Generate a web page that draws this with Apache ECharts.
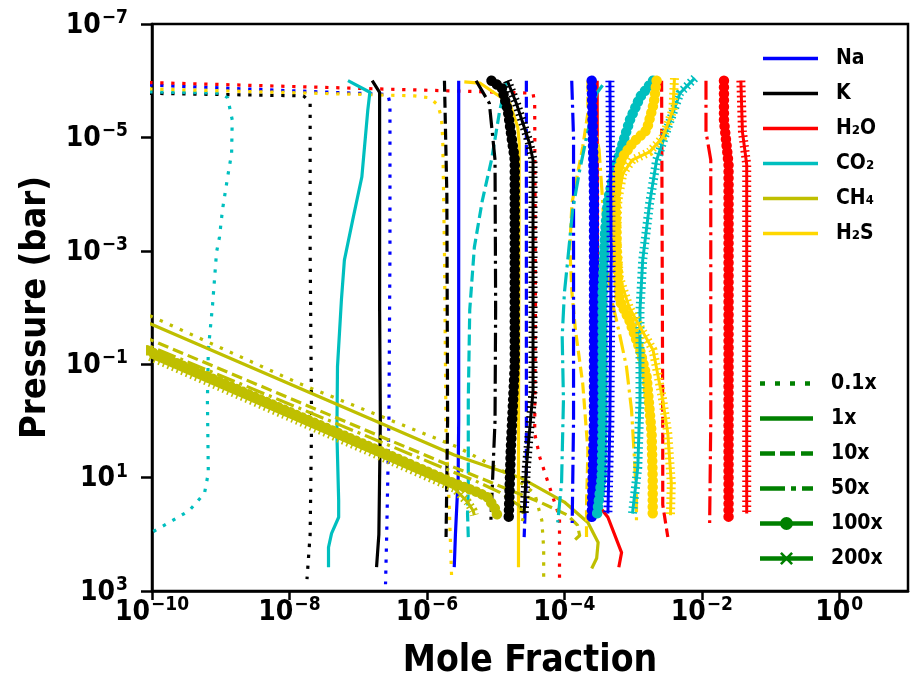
<!DOCTYPE html>
<html>
<head>
<meta charset="utf-8">
<script src="https://cdn.jsdelivr.net/npm/echarts@6/dist/echarts.min.js"></script>
<style>
html,body{margin:0;padding:0;background:#fff;}
#chart{width:923px;height:700px;}
</style>
</head>
<body>
<div id="chart"></div>
<script>
// tick positions and legend names
var xTicks = [1e-10, 1e-8, 1e-6, 1e-4, 1e-2, 1e0];
var yTicks = [1e-7, 1e-5, 1e-3, 1e-1, 1e1, 1e3];
var species = ['Na', 'K', 'H₂O', 'CO₂', 'CH₄', 'H₂S'];
var metallicity = ['0.1x', '1x', '10x', '50x', '100x', '200x'];

// [mole fraction, pressure (bar)]
var na01 = [[1e-11,1.1e-6],[1e-10,1.2e-6],[1e-8,1.5e-6],[2.7e-7,1.75e-6],[2.9e-7,2.5e-6],[2.9e-7,1e-3],[2.8e-7,1],[2.6e-7,100],[2.5e-7,760]];
var na1 = [[2.9e-6,1e-6],[2.9e-6,1],[2.85e-6,10],[2.6e-6,100],[2.5e-6,380]];
var na10 = [[2.8e-5,1e-6],[2.8e-5,10],[2.6e-5,112]];
var na50 = [[1.28e-4,1e-6],[1.36e-4,1e-5],[1.36e-4,1],[1.3e-4,63]];
var na100 = [[2.5e-4,1e-6],[2.7e-4,1e-4],[2.7e-4,1],[2.5e-4,52]];
var na200 = [[4.6e-4,1e-6],[4.8e-4,1e-3],[4.6e-4,1],[4.3e-4,43]];

var k01 = [[1e-11,1.6e-6],[1.6e-8,1.85e-6],[2.0e-8,2.4e-6],[2.0e-8,1e-3],[2.1e-8,1],[2.0e-8,100],[1.8e-8,620]];
var k1 = [[1.6e-7,1e-6],[2.05e-7,1.6e-6],[2.05e-7,1e-2],[2.1e-7,1],[2.0e-7,100],[1.85e-7,380]];
var k10 = [[1.8e-6,1e-6],[1.95e-6,1e-4],[2.0e-6,1],[1.9e-6,112]];
var k50 = [[5.2e-6,1e-6],[8.1e-6,2.5e-6],[9.8e-6,2.5e-5],[1e-5,1e-2],[9.8e-6,1],[8.5e-6,63]];
var k100 = [[8.7e-6,1e-6],[1.23e-5,1.35e-6],[1.5e-5,3.3e-6],[1.9e-5,2.5e-5],[1.9e-5,0.1],[1.66e-5,3.3],[1.55e-5,52]];
var k200 = [[1.48e-5,1e-6],[2.0e-5,2.5e-6],[3.1e-5,1.26e-5],[3.5e-5,2.5e-5],[3.5e-5,0.3],[2.8e-5,6.6],[2.6e-5,43]];

var h2o01 = [[1e-11,1.0e-6],[3.5e-5,1.66e-6],[3.7e-5,2.5e-6],[3.8e-5,1e-2],[3.7e-5,1.66],[4.4e-5,4.4],[6.8e-5,22],[8.5e-5,50],[8.5e-5,730]];
var h2o1 = [[3.0e-4,1e-6],[3.05e-4,1],[3.1e-4,30],[4.3e-4,50],[6.8e-4,210],[6.2e-4,380]];
var h2o10 = [[2.6e-3,1e-6],[2.7e-3,1],[2.7e-3,30],[3.2e-3,112]];
var h2o50 = [[1.15e-2,1e-6],[1.15e-2,8e-6],[1.35e-2,2.5e-5],[1.35e-2,1],[1.3e-2,63]];
var h2o100 = [[2.1e-2,1e-6],[2.1e-2,5e-6],[2.45e-2,3e-5],[2.45e-2,52]];
var h2o200 = [[3.7e-2,1e-6],[3.9e-2,8e-6],[4.5e-2,3e-5],[4.5e-2,43]];

var co201 = [[1e-11,1.5e-6],[1.0e-9,1.66e-6],[1.26e-9,2.0e-6],[1.47e-9,4.9e-6],[1.44e-9,1.9e-5],[1.26e-9,5.0e-5],[1.06e-9,1.9e-4],[9.6e-10,5.7e-4],[8.7e-10,1.05e-3],[7.6e-10,9.1e-3],[6.6e-10,5.6e-2],[6.4e-10,0.43],[6.6e-10,8.3],[5.8e-10,19],[3.5e-10,38],[2.0e-10,57],[1.0e-10,92],[5e-11,130]];
var co21 = [[7.1e-8,1e-6],[1.48e-7,1.6e-6],[1.38e-7,3.3e-6],[1.13e-7,5.0e-5],[8.3e-8,2.9e-4],[6.3e-8,1.46e-3],[5.7e-8,7.4e-3],[5.0e-8,0.11],[4.9e-8,1.66],[5.2e-8,25],[5.2e-8,50],[4.1e-8,96],[3.7e-8,170],[3.7e-8,380]];
var co210 = [[1.45e-5,1.05e-6],[1.15e-5,3.3e-6],[8.7e-6,2.5e-5],[6.4e-6,1.3e-4],[4.9e-6,8.7e-4],[4.2e-6,1.1e-2],[4.0e-6,0.43],[4.0e-6,15],[3.9e-6,43],[4.0e-6,112]];
var co250 = [[3.6e-4,1.2e-6],[2.95e-4,1.66e-6],[2.1e-4,1e-5],[1.67e-4,3.8e-5],[1.32e-4,1.9e-4],[1.12e-4,1.46e-3],[1.0e-4,5.6e-3],[9.3e-5,3.3e-2],[9.7e-5,0.43],[9.1e-5,12.6],[8.0e-5,62]];
var co2100 = [[1.95e-3,1e-6],[1.26e-3,1.95e-6],[9e-4,4.9e-6],[6.8e-4,1.48e-5],[5.4e-4,3.8e-5],[4.3e-4,1.3e-4],[3.9e-4,4.9e-4],[3.6e-4,5.6e-3],[3.6e-4,1],[3.5e-4,10],[2.95e-4,50]];
var co2200 = [[7.9e-3,9e-7],[4.8e-3,1.66e-6],[3.1e-3,7.4e-6],[2.2e-3,2.5e-5],[1.74e-3,1.45e-4],[1.38e-3,1.46e-3],[1.26e-3,1.1e-2],[1.26e-3,0.43],[1.17e-3,6.6],[9.8e-4,43]];

var ch401 = [[1.7e-11,5.8e-3],[1.2e-10,1.6e-2],[1.4e-8,0.22],[2.8e-6,2.9],[1.7e-5,9.2],[3.7e-5,19],[4.7e-5,57],[5.0e-5,177],[5.0e-5,650]];
var ch41 = [[1.7e-11,8.4e-3],[1.0e-10,2.0e-2],[2.5e-6,4.0],[2.4e-5,10.3],[1.0e-4,27],[2.2e-4,62],[3.1e-4,139],[2.95e-4,265],[2.5e-4,400]];
var ch410 = [[1.7e-11,1.55e-2],[1.0e-10,3.8e-2],[2.5e-6,6.6],[1.07e-5,13.6],[4.7e-5,28],[1.12e-4,46],[1.55e-4,69],[1.67e-4,105],[1.4e-4,128]];
var ch450 = [[1.7e-11,2.0e-2],[1.0e-10,5.0e-2],[2.5e-6,8.1],[4.9e-6,11.2],[1.15e-5,18.2],[2.2e-5,31],[2.6e-5,46],[2.4e-5,62]];
var ch4100 = [[1.7e-11,2.5e-2],[1.0e-10,6.2e-2],[2.5e-6,12.6],[5.5e-6,18.2],[7.6e-6,22],[1.02e-5,38],[1.07e-5,52]];
var ch4200 = [[1.7e-11,3.1e-2],[1.0e-10,7.6e-2],[2.5e-6,15.4],[3.9e-6,27],[4.7e-6,38],[4.9e-6,46]];

var h2s01 = [[1e-11,1.3e-6],[6.6e-7,1.85e-6],[1.1e-6,2.0e-6],[1.45e-6,2.7e-6],[1.63e-6,4.6e-6],[1.7e-6,1.1e-5],[1.8e-6,1e-3],[1.9e-6,1.66],[2.1e-6,25],[2.3e-6,700]];
var h2s1 = [[3.5e-6,1.05e-6],[5.9e-6,1.1e-6],[1.6e-5,2.5e-6],[2.1e-5,6.6e-6],[2.2e-5,1.26e-5],[2.15e-5,1],[2.15e-5,380]];
var h2s10 = [[2.2e-4,1.0e-6],[2.2e-4,3.7e-6],[1.85e-4,1.48e-5],[1.29e-4,1.45e-4],[1.2e-4,8.7e-4],[1.29e-4,5.6e-3],[1.45e-4,2.5e-2],[1.85e-4,0.22],[2.2e-4,3.3],[2.1e-4,33],[2.1e-4,112]];
var h2s50 = [[2.3e-4,1e-6],[2.5e-4,3.3e-6],[3.2e-4,1.66e-5],[3.6e-4,1.3e-4],[4.0e-4,1.46e-3],[4.9e-4,7.4e-3],[6.3e-4,2.8e-2],[8.0e-4,0.11],[9.5e-4,0.65],[1.05e-3,4.9],[1.12e-3,25],[1.12e-3,63]];
var h2s100 = [[2.2e-3,1e-6],[2.0e-3,2.5e-6],[1.58e-3,7.4e-6],[9.8e-4,1.26e-5],[7.1e-4,2.2e-5],[6.0e-4,3.8e-5],[5.6e-4,1.3e-4],[5.8e-4,1.0e-3],[6.3e-4,7.4e-3],[8.8e-4,1.66e-2],[1.26e-3,5.6e-2],[1.58e-3,0.17],[1.86e-3,1.66],[1.93e-3,11],[1.93e-3,50]];
var h2s200 = [[4.0e-3,9e-7],[3.8e-3,3.3e-6],[2.7e-3,1e-5],[1.74e-3,1.8e-5],[9.8e-4,2.5e-5],[7.1e-4,4.3e-5],[6.0e-4,1.3e-4],[5.8e-4,6.4e-4],[6.3e-4,2.9e-3],[8.8e-4,1e-2],[1.26e-3,2.2e-2],[1.95e-3,5.6e-2],[2.7e-3,0.43],[3.2e-3,1.66],[3.6e-3,12.6],[3.5e-3,46]];

// rows = metallicity, columns = species
var table = [
	[na01, k01, h2o01, co201, ch401, h2s01],
	[na1, k1, h2o1, co21, ch41, h2s1],
	[na10, k10, h2o10, co210, ch410, h2s10],
	[na50, k50, h2o50, co250, ch450, h2s50],
	[na100, k100, h2o100, co2100, ch4100, h2s100],
	[na200, k200, h2o200, co2200, ch4200, h2s200]
];

var colors = ['#0000ff', '#000000', '#ff0000', '#00bfbf', '#bfbf00', '#ffd700'];
var green = '#008000';
var FONT = '"DejaVu Sans Condensed", "DejaVu Sans", sans-serif';

// line look per metallicity in the plot
var plotStyles = [
	{width: 3.2, type: [3.3, 7.7]},
	{width: 3.2, type: 'solid'},
	{width: 3.2, type: [11, 5]},
	{width: 3.2, type: [19, 5, 3, 5]},
	{width: 10.5, type: [0.01, 6.5], cap: 'round'},	//chain of dots
	{width: 3, type: 'solid'}
];

// legend keys drawn as filled shapes in a 55x16 / 53x16 box (the first two moves fix the box)
var speciesKey = 'path://M0,0M55,16M0,6.2h55v3.6h-55Z';
var styleKeys = [
	'path://M0,0M53,16M0,5.8h5v4.4h-5ZM15,5.8h5v4.4h-5ZM30,5.8h5v4.4h-5ZM45,5.8h5v4.4h-5Z',
	'path://M0,0M53,16M0,5.8h53v4.4h-53Z',
	'path://M0,0M53,16M0,5.8h15v4.4h-15ZM20,5.8h15v4.4h-15ZM41,5.8h12v4.4h-12Z',
	'path://M0,0M53,16M0,5.8h25v4.4h-25ZM31,5.8h5v4.4h-5ZM42,5.8h11v4.4h-11Z',
	'path://M0,0M53,16M0,5.8h53v4.4h-53ZM33,8a6.5,6.5 0 1,1 -13,0a6.5,6.5 0 1,1 13,0Z',
	'path://M0,0M53,16M0,5.8h53v4.4h-53ZM20,3.3L21.8,1.5L26.5,6.2L31.2,1.5L33,3.3L28.3,8L33,12.7L31.2,14.5L26.5,9.8L21.8,14.5L20,12.7L24.7,8Z'
];

function powLabel(v){
	var e = Math.round(Math.log10(v));
	return '{b|10}{s|' + (e < 0 ? '\u2212' + (-e) : e) + '}';
}

var richLabel = {
	b: {fontSize: 28, fontWeight: 'bold', fontFamily: FONT, color: '#000', verticalAlign: 'bottom', lineHeight: 31},
	s: {fontSize: 19, fontWeight: 'bold', fontFamily: FONT, color: '#000', verticalAlign: 'bottom', lineHeight: 31, padding: [0, 0, 12, 1]}
};

var series = [];
// legend-only series
species.forEach(function(s, j){
	series.push({type: 'line', name: s, data: [], symbol: 'none',
		lineStyle: {color: colors[j]}, itemStyle: {color: colors[j]}});
});
metallicity.forEach(function(m, i){
	series.push({type: 'line', name: m, data: [], symbol: 'none',
		lineStyle: {color: green}, itemStyle: {color: green}});
});
// the profiles
metallicity.forEach(function(m, i){
	var st = plotStyles[i];
	species.forEach(function(s, j){
		series.push({
			type: 'line', name: s + ' ' + m, data: table[i][j], symbol: 'none', silent: true,
			lineStyle: {color: colors[j], width: st.width, type: st.type, cap: st.cap || 'butt', join: 'round'}
		});
		if (i == 5){	//x markers: cross ticks over the line
			series.push({
				type: 'line', name: s + ' ' + m + ' marks', data: table[i][j], symbol: 'none', silent: true,
				lineStyle: {color: colors[j], width: 9, type: [1.6, 3.4], cap: 'butt', join: 'round'}
			});
		}
	});
});

var legendText = {fontSize: 21, fontWeight: 'bold', fontFamily: FONT, color: '#000', padding: [0, 0, 0, 13]};

var option = {
	animation: false,
	backgroundColor: '#fff',
	grid: {left: 152, top: 24, width: 756, height: 567, show: true, borderColor: '#000', borderWidth: 2.5, containLabel: false},
	legend: [{
		orient: 'vertical', left: 758, top: 43, itemWidth: 55, itemHeight: 16, itemGap: 14,
		selectedMode: false, symbolKeepAspect: false, icon: speciesKey, textStyle: legendText,
		data: species
	}, {
		orient: 'vertical', left: 755, top: 368, itemWidth: 53, itemHeight: 16, itemGap: 14,
		selectedMode: false, symbolKeepAspect: false, textStyle: legendText,
		data: metallicity.map(function(m, i){ return {name: m, icon: styleKeys[i]}; })
	}],
	xAxis: {
		type: 'log', logBase: 10, min: 1e-10, max: 10,
		name: 'Mole Fraction', nameLocation: 'middle', nameGap: 52,
		nameTextStyle: {fontSize: 37, fontWeight: 'bold', fontFamily: FONT, color: '#000'},
		axisLine: {lineStyle: {color: '#000', width: 2.5}},
		axisTick: {length: 9, inside: false, lineStyle: {width: 2.5, color: '#000'}, customValues: xTicks},
		axisLabel: {margin: 5, formatter: powLabel, rich: richLabel, customValues: xTicks},
		minorTick: {show: false},
		splitLine: {show: false}
	},
	yAxis: {
		type: 'log', logBase: 10, min: 1e-7, max: 1e3, inverse: true,
		name: 'Pressure (bar)', nameLocation: 'middle', nameGap: 98,
		nameTextStyle: {fontSize: 36, fontWeight: 'bold', fontFamily: FONT, color: '#000'},
		axisLine: {lineStyle: {color: '#000', width: 2.5}},
		axisTick: {length: 11, inside: false, lineStyle: {width: 2.5, color: '#000'}, customValues: yTicks},
		axisLabel: {margin: 24, formatter: powLabel, rich: richLabel, customValues: yTicks},
		minorTick: {show: false},
		splitLine: {show: false}
	},
	series: series
};

var myChart = echarts.init(document.getElementById('chart'));
myChart.setOption(option);
</script>
</body>
</html>
